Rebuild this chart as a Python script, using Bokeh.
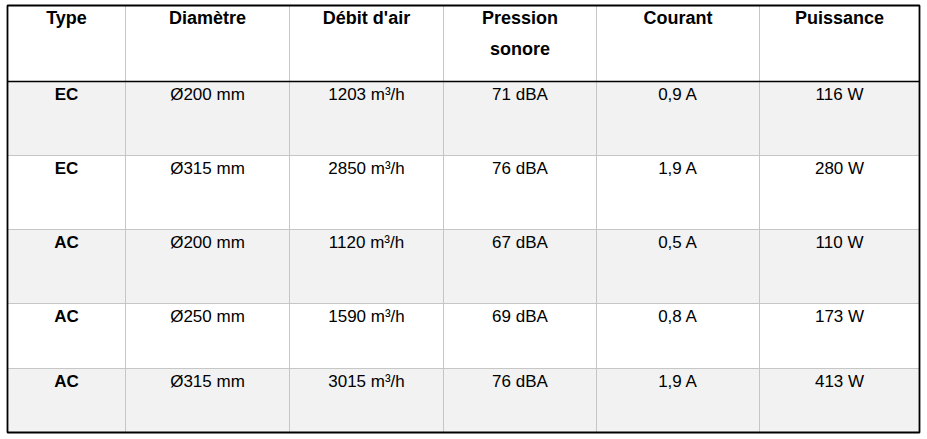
from bokeh.plotting import figure
from bokeh.models import Range1d
from bokeh.embed import file_html
from bokeh.resources import INLINE
from bokeh.core.properties import value

# ---- data ----
headers = ["Type", "Diamètre", "Débit d'air", "Pression\nsonore", "Courant", "Puissance"]
types = ["EC", "EC", "AC", "AC", "AC"]
diametres = ["Ø200 mm", "Ø315 mm", "Ø200 mm", "Ø250 mm", "Ø315 mm"]
debits = ["1203 m³/h", "2850 m³/h", "1120 m³/h", "1590 m³/h", "3015 m³/h"]
pressions = ["71 dBA", "76 dBA", "67 dBA", "69 dBA", "76 dBA"]
courants = ["0,9 A", "1,9 A", "0,5 A", "0,8 A", "1,9 A"]
puissances = ["116 W", "280 W", "110 W", "173 W", "413 W"]

# ---- layout (pixel geometry of the table) ----
col_edges = [7, 125, 289, 443, 596, 759, 919]
row_edges = [5, 81, 155, 229, 303, 368, 432]
header_line_gap = 31.5
header_offset = 12
body_offset = 12.5
FONT = value("Liberation Sans")
FS_HEAD = "18px"
FS_BODY = "17px"

W, H = 922, 436
p = figure(width=W, height=H, output_backend="svg", toolbar_location=None,
           x_range=Range1d(0, W), y_range=Range1d(H, 0),
           min_border=0)
p.axis.visible = False
p.xgrid.visible = False
p.ygrid.visible = False
p.background_fill_color = "white"
p.border_fill_color = "white"
p.outline_line_color = None

columns = [types, diametres, debits, pressions, courants, puissances]
nrows = len(types)
ncols = len(headers)

# row backgrounds (striped)
lefts, rights, tops, bottoms, fills = [], [], [], [], []
for r in range(nrows):
    lefts.append(col_edges[0]); rights.append(col_edges[-1])
    tops.append(row_edges[r + 1]); bottoms.append(row_edges[r + 2])
    fills.append("#f2f2f2" if r % 2 == 0 else "white")
p.quad(left=lefts, right=rights, top=tops, bottom=bottoms, fill_color=fills, line_color=None)

# inner vertical lines
p.segment(x0=col_edges[1:-1], y0=[row_edges[0]] * (ncols - 1),
          x1=col_edges[1:-1], y1=[row_edges[-1]] * (ncols - 1),
          line_color="#c6c6c6", line_width=1)
# inner horizontal lines between body rows
p.segment(x0=[col_edges[0]] * (nrows - 1), y0=row_edges[2:-1],
          x1=[col_edges[-1]] * (nrows - 1), y1=row_edges[2:-1],
          line_color="#c6c6c6", line_width=1)
# header bottom line
p.segment(x0=[col_edges[0]], y0=[row_edges[1]], x1=[col_edges[-1]], y1=[row_edges[1]],
          line_color="black", line_width=1.5)
# outer border
p.quad(left=[col_edges[0]], right=[col_edges[-1]], top=[row_edges[0]], bottom=[row_edges[-1]],
       fill_color=None, line_color="black", line_width=1.8)

centers = [(col_edges[i] + col_edges[i + 1]) / 2 for i in range(ncols)]

# header texts
hx, hy, ht = [], [], []
for i, h in enumerate(headers):
    for k, line in enumerate(h.split("\n")):
        hx.append(centers[i]); hy.append(row_edges[0] + header_offset + k * header_line_gap); ht.append(line)
p.text(x=hx, y=hy, text=ht, text_font=FONT, text_font_size=FS_HEAD, text_font_style="bold",
       text_align="center", text_baseline="alphabetic", text_color="black")

# body texts: first column bold
for c in range(ncols):
    xs = [centers[c]] * nrows
    ys = [row_edges[r + 1] + body_offset for r in range(nrows)]
    p.text(x=xs, y=ys, text=columns[c], text_font=FONT, text_font_size=FS_BODY,
           text_font_style="bold" if c == 0 else "normal",
           text_align="center", text_baseline="alphabetic", text_color="black")

open("out.html", "w").write(file_html(p, INLINE))
